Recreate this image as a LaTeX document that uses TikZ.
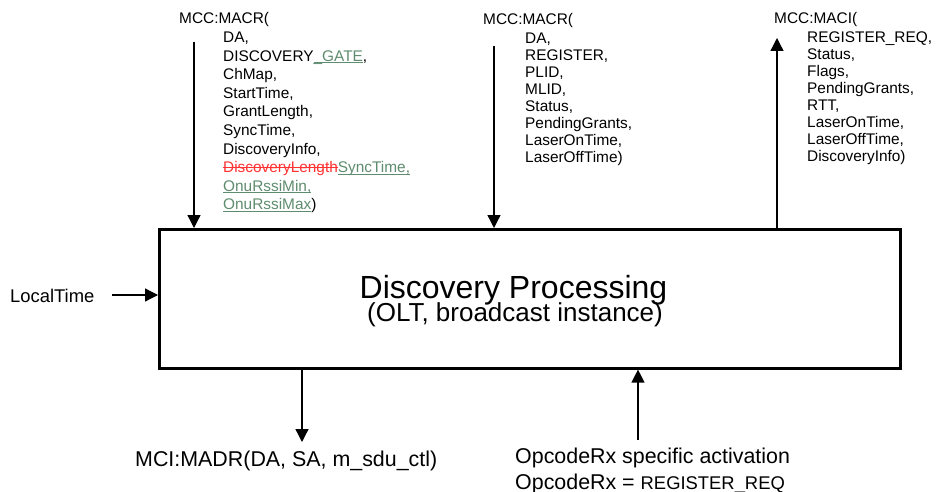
\documentclass[tikz,border=0pt]{standalone}
\usepackage{fontspec}
\setmainfont{Liberation Sans}
\usetikzlibrary{arrows.meta}
\definecolor{insgreen}{RGB}{95,140,110}
\definecolor{delred}{RGB}{255,50,50}
\newcommand{\insmark}[1]{{\color{insgreen}\setbox0\hbox{#1}\rlap{\rule[-2.2pt]{\wd0}{1pt}}\box0}}
\newcommand{\delmark}[1]{{\color{delred}\setbox0\hbox{#1}\rlap{\rule[4.4pt]{\wd0}{1.2pt}}\box0}}
\begin{document}
\begin{tikzpicture}[x=1pt,y=-1pt,
  lbl/.style={inner sep=0pt, anchor=base west, font=\fontsize{15.4}{17}\selectfont},
  bot/.style={inner sep=0pt, anchor=base west, font=\fontsize{21.4}{24}\selectfont},
  sig/.style={line width=1.3pt, -{Triangle[width=13pt,length=13pt]}},
  blk/.style={draw, line width=2.6pt, inner sep=0pt, minimum width=741pt, minimum height=139pt, anchor=north west}]
\useasboundingbox (0,0) rectangle (945,492);

% main box
\node[blk] (box) at (158,228) {};
\node[inner sep=0pt, anchor=base, font=\fontsize{32}{36}\selectfont] (title) at (513.5,298) {Discovery Processing};
\node[inner sep=0pt, anchor=base, font=\fontsize{26}{30}\selectfont] (sub) at (515,321) {(OLT, broadcast instance)};

% block 1
\node[lbl] (h1) at (179,24) {MCC:MACR(};
\foreach \t [count=\i] in {{DA,},{DISCOVERY\insmark{\_GATE},},{ChMap,},{StartTime,},{GrantLength,},{SyncTime,},{DiscoveryInfo,},{\delmark{DiscoveryLength}\insmark{SyncTime,}},{\insmark{OnuRssiMin,}},{\insmark{OnuRssiMax})}}
  \node[lbl] (p1-\i) at (223,{42.7+18.55*(\i-1)}) {\t};
\coordinate (a1s) at (194,42);
\draw[sig] (a1s) -- (a1s |- box.north);

% block 2
\node[lbl] (h2) at (483,24.5) {MCC:MACR(};
\foreach \t [count=\i] in {{DA,},{REGISTER,},{PLID,},{MLID,},{Status,},{PendingGrants,},{LaserOnTime,},{LaserOffTime)}}
  \node[lbl] (p2-\i) at (525,{43.5+16.95*(\i-1)}) {\t};
\coordinate (a2s) at (494,46);
\draw[sig] (a2s) -- (a2s |- box.north);

% block 3
\node[lbl] (h3) at (774,23.5) {MCC:MACI(};
\foreach \t [count=\i] in {{REGISTER\_REQ,},{Status,},{Flags,},{PendingGrants,},{RTT,},{LaserOnTime,},{LaserOffTime,},{DiscoveryInfo)}}
  \node[lbl] (p3-\i) at (807,{42.5+17*(\i-1)}) {\t};
\coordinate (a3e) at (777,38);
\draw[sig] (a3e |- box.north) -- (a3e);

% LocalTime
\node[inner sep=0pt, anchor=base west, font=\fontsize{18.4}{20}\selectfont] (lt) at (10,302) {LocalTime};
\coordinate (lts) at (112,295);
\draw[sig] (lts) -- (lts -| box.west);

% bottom left
\coordinate (b1e) at (302,442);
\draw[sig] (b1e |- box.south) -- (b1e);
\node[bot] (madr) at (135,466) {MCI:MADR(DA, SA, m\_sdu\_ctl)};

% bottom right
\coordinate (b2s) at (638,440);
\draw[sig] (b2s) -- (b2s |- box.south);
\node[bot] (act1) at (515,463) {OpcodeRx specific activation};
\node[bot] (act2) at (515,489.5) {OpcodeRx = {\fontsize{18.4}{20}\selectfont REGISTER\_REQ}};
\end{tikzpicture}
\end{document}
